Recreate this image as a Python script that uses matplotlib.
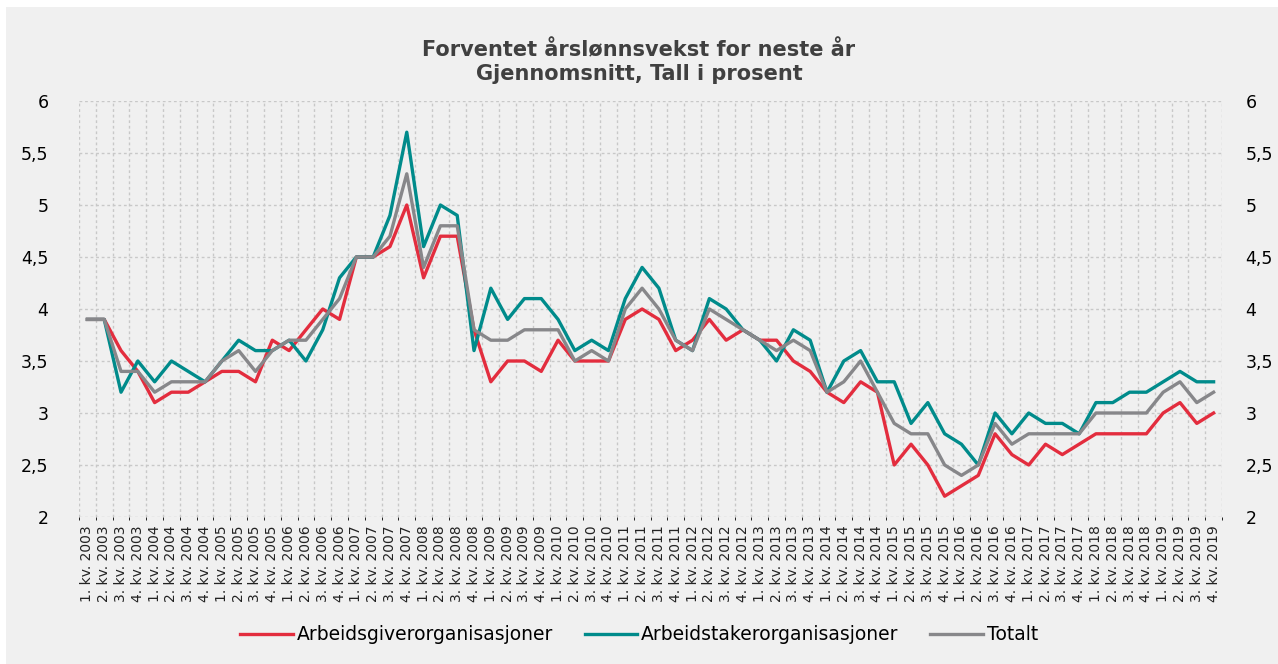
import numpy as np
import matplotlib
matplotlib.use('Agg')
import matplotlib.pyplot as plt
from matplotlib.patches import Rectangle
from matplotlib.ticker import FixedLocator, FuncFormatter

# kvartaler 2003-2019
years = list(range(2003, 2020))
kvartaler = ['%d. kv. %d' % (q, y) for y in years for q in range(1, 5)]

arbeidsgiver = [3.9, 3.9, 3.6, 3.4, 3.1, 3.2, 3.2, 3.3, 3.4, 3.4, 3.3, 3.7,
                3.6, 3.8, 4.0, 3.9, 4.5, 4.5, 4.6, 5.0, 4.3, 4.7, 4.7, 3.8,
                3.3, 3.5, 3.5, 3.4, 3.7, 3.5, 3.5, 3.5, 3.9, 4.0, 3.9, 3.6,
                3.7, 3.9, 3.7, 3.8, 3.7, 3.7, 3.5, 3.4, 3.2, 3.1, 3.3, 3.2,
                2.5, 2.7, 2.5, 2.2, 2.3, 2.4, 2.8, 2.6, 2.5, 2.7, 2.6, 2.7,
                2.8, 2.8, 2.8, 2.8, 3.0, 3.1, 2.9, 3.0]
arbeidstaker = [3.9, 3.9, 3.2, 3.5, 3.3, 3.5, 3.4, 3.3, 3.5, 3.7, 3.6, 3.6,
                3.7, 3.5, 3.8, 4.3, 4.5, 4.5, 4.9, 5.7, 4.6, 5.0, 4.9, 3.6,
                4.2, 3.9, 4.1, 4.1, 3.9, 3.6, 3.7, 3.6, 4.1, 4.4, 4.2, 3.7,
                3.6, 4.1, 4.0, 3.8, 3.7, 3.5, 3.8, 3.7, 3.2, 3.5, 3.6, 3.3,
                3.3, 2.9, 3.1, 2.8, 2.7, 2.5, 3.0, 2.8, 3.0, 2.9, 2.9, 2.8,
                3.1, 3.1, 3.2, 3.2, 3.3, 3.4, 3.3, 3.3]
totalt = [3.9, 3.9, 3.4, 3.4, 3.2, 3.3, 3.3, 3.3, 3.5, 3.6, 3.4, 3.6,
          3.7, 3.7, 3.9, 4.1, 4.5, 4.5, 4.7, 5.3, 4.4, 4.8, 4.8, 3.8,
          3.7, 3.7, 3.8, 3.8, 3.8, 3.5, 3.6, 3.5, 4.0, 4.2, 4.0, 3.7,
          3.6, 4.0, 3.9, 3.8, 3.7, 3.6, 3.7, 3.6, 3.2, 3.3, 3.5, 3.2,
          2.9, 2.8, 2.8, 2.5, 2.4, 2.5, 2.9, 2.7, 2.8, 2.8, 2.8, 2.8,
          3.0, 3.0, 3.0, 3.0, 3.2, 3.3, 3.1, 3.2]

rod = '#E32D3E'
teal = '#008B8B'
gra = '#87878A'
bg = '#F0F0F0'

fig = plt.figure(figsize=(12.78, 6.64), dpi=100, facecolor='white')
fig.patches.append(Rectangle((6 / 1278, 0), 1, 1 - 7 / 664, transform=fig.transFigure,
                             facecolor=bg, edgecolor='none', zorder=-10))
ax = fig.add_axes([79 / 1278, 1 - 517 / 664, (1222 - 79) / 1278, (517 - 101) / 664])
ax.set_facecolor(bg)

x = np.arange(len(kvartaler))
ax.plot(x, arbeidsgiver, color=rod, lw=2.4, label='Arbeidsgiverorganisasjoner', zorder=3)
ax.plot(x, arbeidstaker, color=teal, lw=2.4, label='Arbeidstakerorganisasjoner', zorder=3)
ax.plot(x, totalt, color=gra, lw=2.4, label='Totalt', zorder=3)

ax.set_xlim(-0.5, len(kvartaler) - 0.5)
ax.set_ylim(2, 6)

# y-akse med komma
komma = FuncFormatter(lambda v, p: ('%g' % v).replace('.', ','))
ax.set_yticks(np.arange(2, 6.01, 0.5))
ax.yaxis.set_major_formatter(komma)
ax.tick_params(axis='y', length=0, labelsize=12.5, pad=22, colors='black')

ax.set_xticks(x)
ax.set_xticklabels(kvartaler, rotation=90, fontsize=10, color='#222222')
ax.tick_params(axis='x', length=0, pad=6)
ax.xaxis.set_minor_locator(FixedLocator(np.arange(-0.5, len(kvartaler), 1)))

# rutenett
ax.grid(axis='y', which='major', color='#C8C8C8', ls=(0, (2, 2)), lw=1)
ax.grid(axis='x', which='minor', color='#C8C8C8', ls=(0, (2, 2)), lw=1)
ax.grid(axis='x', which='major', visible=False)
for s in ax.spines.values():
    s.set_visible(False)

# høyre akse
ax2 = ax.twinx()
ax2.set_ylim(2, 6)
ax2.set_yticks(np.arange(2, 6.01, 0.5))
ax2.yaxis.set_major_formatter(komma)
ax2.tick_params(axis='y', length=0, labelsize=12.5, pad=17, colors='black')
for s in ax2.spines.values():
    s.set_visible(False)

fig.text(0.5, 1 - 62 / 664, 'Forventet årslønnsvekst for neste år\nGjennomsnitt, Tall i prosent',
         ha='center', va='center', fontsize=15, fontweight='bold', color='#404040', linespacing=1.2)

fig.legend(loc='center', bbox_to_anchor=(0.5, 1 - 635 / 664), ncol=3, frameon=False,
           fontsize=13.5, handlelength=2.8, columnspacing=1.7, handletextpad=0.2)

fig.savefig('out.png', dpi=100, facecolor=fig.get_facecolor())
